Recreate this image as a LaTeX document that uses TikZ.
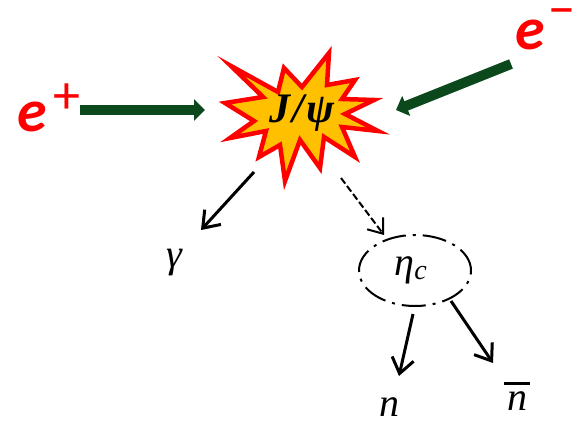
\documentclass[tikz,border=0pt]{standalone}
\usepackage{fontspec}
\newfontfamily\lepton{Carlito}
\newfontfamily\mesonfont{Liberation Serif}
\usetikzlibrary{arrows.meta,shapes.geometric}
\definecolor{beamgreen}{RGB}{11,72,28}
\definecolor{burstfill}{RGB}{255,192,0}
\tikzset{
	beam/.style={draw=beamgreen,line width=10pt,-{Triangle[length=11pt,width=21pt,fill=beamgreen]}},
	decayline/.style={black,line width=3pt,-{Straight Barb[length=15pt,width=22pt,line width=3pt]}},
	particle/.style={inner sep=0pt,font=\mesonfont\itshape\fontsize{40}{44}\selectfont},
	charge/.style={inner sep=0pt,text=red,font=\lepton\fontsize{54}{60}\selectfont},
	lepton/.style={inner sep=0pt,text=red,font=\lepton\bfseries\itshape\fontsize{60}{64}\selectfont}
}
\begin{document}
\begin{tikzpicture}[x=1pt,y=-1pt]
	\useasboundingbox (0,0) rectangle (577,422);
	
	% Burst
	\draw[draw=red,fill=burstfill,line width=4.5pt,miter limit=20,line join=miter]
		(231,66) -- (278,92) -- (284,68) -- (302,87) -- (329,53) -- (327,85)
		-- (355,80) -- (342,99) -- (374,100) -- (345,114) -- (378,131) -- (342,127)
		-- (355,157) -- (324,137) -- (320,168) -- (300,140) -- (285,181) -- (280,145)
		-- (259,157) -- (266,131) -- (230,138) -- (254,121) -- (225,103) -- (263,97) -- cycle;
	\node[inner sep=0pt,font=\mesonfont\bfseries\itshape\fontsize{42}{44}\selectfont] (burst) at (302,113) {J\kern2pt/\kern2ptψ};
	
	% Beams
	\node[lepton] (eplus) at (32,117) {e};
	\node[charge] (plussign) at (67,99) {+};
	\node[lepton] (eminus) at (530,35) {e};
	\node[charge] (minussign) at (562,18) {−};
	\coordinate (plustail) at (80,110);
	\coordinate (plushead) at (205,110);
	\coordinate (minustail) at (511,64);
	\coordinate (minushead) at (396,110);
	\draw[beam] (plustail) -- (plushead);
	\draw[beam] (minustail) -- (minushead);
	
	% Decay products
	\node[particle] (gamma) at (174,263) {γ};
	\node[draw,ellipse,minimum width=112pt,minimum height=71pt,inner sep=0pt,line width=2pt,
		dash pattern=on 24pt off 7pt on 3pt off 7pt] (etac) at (415,270.5) {};
	\node[particle] (etalabel) at (411,270) {η\textsubscript{c}};
	\node[particle] (n) at (389,407) {n};
	\node[particle] (nbar) at (517,401) {n};
	\draw[line width=3pt] ([xshift=-3pt,yshift=8pt]nbar.north west) -- ([xshift=3pt,yshift=8pt]nbar.north east);
	
	% Decay arrows
	\coordinate (gammatail) at (254,172);
	\coordinate (gammahead) at (201,230);
	\coordinate (etatail) at (341,178);
	\coordinate (etahead) at (384,235);
	\coordinate (ntail) at (413,314);
	\coordinate (nhead) at (399,376);
	\coordinate (nbartail) at (451,301);
	\coordinate (nbarhead) at (493,363);
	\draw[decayline] (gammatail) -- (gammahead);
	\draw[line width=2pt,dash pattern=on 7pt off 3pt,-{Straight Barb[length=13pt,width=20pt,line width=2pt]}] (etatail) -- (etahead);
	\draw[decayline] (ntail) -- (nhead);
	\draw[decayline] (nbartail) -- (nbarhead);
	
\end{tikzpicture}
\end{document}
